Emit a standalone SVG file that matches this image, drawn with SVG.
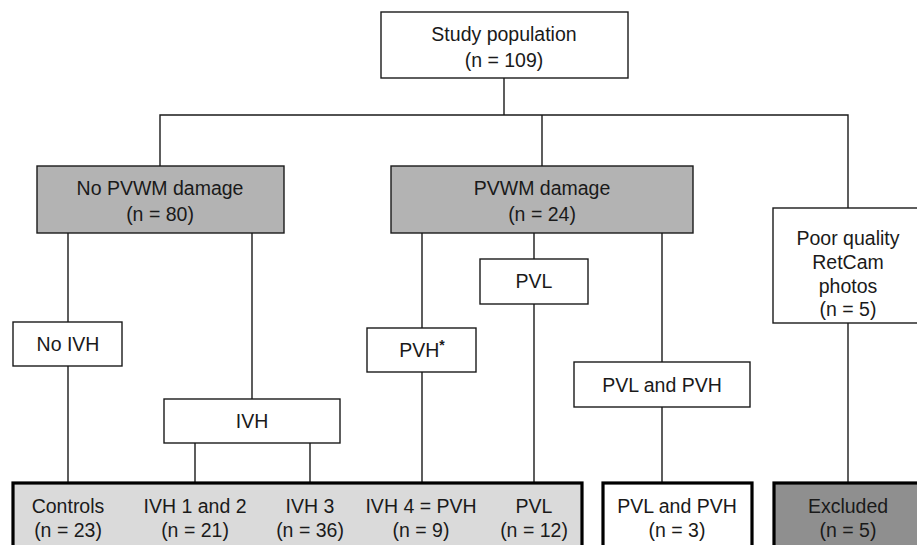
<svg xmlns="http://www.w3.org/2000/svg" width="917" height="545" viewBox="0 0 917 545">
<style>
.box{fill:#fff;stroke:#1a1a1a;stroke-width:1.4}
.grey{fill:#b3b3b3;stroke:#1a1a1a;stroke-width:1.4}
.fin{stroke:#000;stroke-width:3.2}
.light{fill:#dadada}
.white{fill:#fff}
.dark{fill:#8f8f8f}
text{font-family:"Liberation Sans",Arial,sans-serif;font-size:19.5px;fill:#1a1a1a;text-anchor:middle}
.ln{stroke:#1a1a1a;stroke-width:1.4;fill:none}
</style>
<rect width="917" height="545" fill="#fff"/>
<g id="connectors">
<path class="ln" d="M504 78V115M160 166V115H848V208M542 115V166"/>
<path class="ln" d="M68 233V322M68 366V483M252 233V399M195 443V483M310 443V483"/>
<path class="ln" d="M422 233V328M422 372V483M534 233V259M534 304V483M662 233V362M662 407V483"/>
<path class="ln" d="M848 323V483"/>
</g>
<g id="study">
<rect class="box" x="381" y="12" width="247" height="66"/>
<text x="504" y="41">Study population</text>
<text x="504" y="67">(n = 109)</text>
</g>
<g id="nopvwm">
<rect class="grey" x="37" y="166" width="247" height="67"/>
<text x="160" y="195">No PVWM damage</text>
<text x="160" y="221">(n = 80)</text>
</g>
<g id="pvwm">
<rect class="grey" x="391" y="166" width="302" height="67"/>
<text x="542" y="195">PVWM damage</text>
<text x="542" y="221">(n = 24)</text>
</g>
<g id="poor">
<rect class="box" x="773" y="208" width="150" height="115"/>
<text x="848" y="245">Poor quality</text>
<text x="848" y="269">RetCam</text>
<text x="848" y="293">photos</text>
<text x="848" y="316">(n = 5)</text>
</g>
<g id="noivh">
<rect class="box" x="13" y="322" width="109" height="44"/>
<text x="68" y="351">No IVH</text>
</g>
<g id="ivh">
<rect class="box" x="164" y="399" width="176" height="44"/>
<text x="252" y="428">IVH</text>
</g>
<g id="pvh">
<rect class="box" x="367" y="328" width="109" height="44"/>
<text x="422" y="357">PVH<tspan dy="-7" font-size="14" font-weight="bold">*</tspan></text>
</g>
<g id="pvl">
<rect class="box" x="480" y="259" width="108" height="45"/>
<text x="534" y="288">PVL</text>
</g>
<g id="pvlpvh">
<rect class="box" x="574" y="362" width="176" height="45"/>
<text x="662" y="392">PVL and PVH</text>
</g>
<g id="groups">
<rect class="fin light" x="13" y="483" width="569" height="80"/>
<text x="68" y="513">Controls</text>
<text x="68" y="537">(n = 23)</text>
<text x="195" y="513">IVH 1 and 2</text>
<text x="195" y="537">(n = 21)</text>
<text x="310" y="513">IVH 3</text>
<text x="310" y="537">(n = 36)</text>
<text x="421" y="513">IVH 4 = PVH</text>
<text x="421" y="537">(n = 9)</text>
<text x="534" y="513">PVL</text>
<text x="534" y="537">(n = 12)</text>
</g>
<g id="final-pvlpvh">
<rect class="fin white" x="603" y="483" width="149" height="80"/>
<text x="677" y="513">PVL and PVH</text>
<text x="677" y="537">(n = 3)</text>
</g>
<g id="excluded">
<rect class="fin dark" x="774" y="483" width="150" height="80"/>
<text x="848" y="513">Excluded</text>
<text x="848" y="537">(n = 5)</text>
</g>
</svg>
